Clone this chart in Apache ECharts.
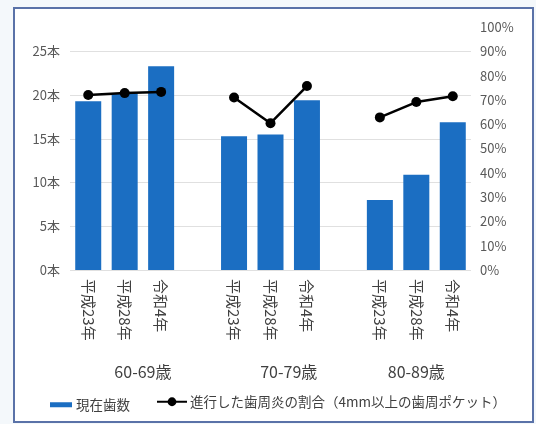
<!DOCTYPE html>
<html>
<head>
<meta charset="utf-8">
<script src="https://cdn.jsdelivr.net/npm/echarts@6/dist/echarts.min.js"></script>
<style>html,body{margin:0;padding:0;background:#f4f8fb;}#c{width:536px;height:424px;}</style>
</head>
<body>
<div id="c"></div>
<script>
const categories = ['平成23年','平成28年','令和4年','','平成23年','平成28年','令和4年','','平成23年','平成28年','令和4年'];
const teethCount = [19.3, 20.2, 23.3, null, 15.3, 15.5, 19.4, null, 8.0, 10.9, 16.9];
const periodontitisRate = [72.0, 72.8, 73.3, null, 71.0, 60.4, 75.7, null, 62.8, 69.1, 71.5];
const groupLabels = ['60-69歳', '70-79歳', '80-89歳'];
const groupLabelSlots = [4, 12, 19];
const seriesNames = ['現在歯数', '進行した歯周炎の割合（4mm以上の歯周ポケット）'];
const leftTicks = [0, 5, 10, 15, 20, 25];
const rightTicks = [0, 10, 20, 30, 40, 50, 60, 70, 80, 90, 100];

const FONT = '"Noto Sans CJK JP", "Noto Sans", sans-serif';
const groupAxisData = [];
for (let k = 0; k < 23; k++) {
  const gi = groupLabelSlots.indexOf(k);
  groupAxisData.push(gi >= 0 ? groupLabels[gi] : ' '.repeat(k + 1));
}

const chart = echarts.init(document.getElementById('c'));
chart.setOption({
  backgroundColor: '#f4f8fb',
  animation: false,
  textStyle: { fontFamily: FONT },
  graphic: [{
    type: 'rect', z: -10, silent: true,
    shape: { x: 14, y: 8, width: 519, height: 414 },
    style: { fill: '#ffffff', stroke: '#5a72a8', lineWidth: 2 }
  }],
  grid: { left: 70, right: 65, top: 27, bottom: 154, containLabel: false },
  legend: [{
    left: 45, top: 393, itemWidth: 22, itemHeight: 5, itemGap: 10,
    data: [{ name: seriesNames[0], icon: 'rect' }],
    textStyle: { fontSize: 13.5, color: '#404040', fontFamily: FONT, padding: [0, 0, 0, -1] }
  }, {
    left: 151, top: 390, itemWidth: 30, itemHeight: 11,
    data: [seriesNames[1]],
    textStyle: { fontSize: 13.5, color: '#404040', fontFamily: FONT, padding: [0, 0, 0, -2] }
  }],
  xAxis: [{
    type: 'category', data: categories, position: 'bottom',
    axisLine: { show: false }, axisTick: { show: false },
    axisLabel: { interval: 0, rotate: -90, margin: 9, fontSize: 15, color: '#404040', fontFamily: FONT }
  }, {
    type: 'category', data: groupAxisData, position: 'bottom', boundaryGap: false,
    offset: 86,
    axisLine: { show: false }, axisTick: { show: false },
    axisLabel: { interval: 0, fontSize: 16, color: '#404040', fontFamily: FONT }
  }],
  yAxis: [{
    type: 'value', min: 0, max: 25 / 0.9, interval: 5,
    axisLine: { show: false }, axisTick: { show: false },
    splitLine: { show: true, showMaxLine: false, lineStyle: { color: '#e0e0e0', width: 1 } },
    axisLabel: {
      margin: 10, fontSize: 13, color: '#595959', showMaxLabel: false,
      formatter: v => leftTicks.indexOf(Math.round(v)) >= 0 && Math.abs(v - Math.round(v)) < 1e-6 ? v + '本' : ''
    }
  }, {
    type: 'value', min: 0, max: 100, interval: 10,
    axisLine: { show: false }, axisTick: { show: false }, splitLine: { show: false },
    axisLabel: {
      margin: 9, fontSize: 13, color: '#595959',
      formatter: v => rightTicks.indexOf(v) >= 0 ? v + '%' : ''
    }
  }],
  series: [{
    name: seriesNames[0], type: 'bar', xAxisIndex: 0, yAxisIndex: 0,
    data: teethCount, barWidth: 26,
    itemStyle: { color: '#1b6ec2' }
  }, {
    name: seriesNames[1], type: 'line', xAxisIndex: 0, yAxisIndex: 1,
    data: periodontitisRate, connectNulls: false,
    symbol: 'circle', symbolSize: 10,
    lineStyle: { color: '#000000', width: 2.5 },
    itemStyle: { color: '#000000' }
  }]
});
</script>
</body>
</html>
